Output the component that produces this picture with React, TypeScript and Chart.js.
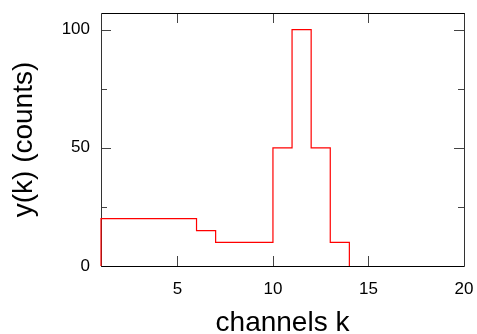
import { useEffect, useRef } from "react";
import { Chart, registerables } from "chart.js";

Chart.register(...registerables);

// Histogram as step points (horizontal first): channel edge and count
const channels = [1, 1, 6, 7, 10, 11, 12, 13, 14];
const counts = [0, 20, 15, 10, 50, 100, 50, 10, 0];

const xMin = 1;
const xMax = 20;
const yMin = 0;
const yMax = 107;
const xTicks = [5, 10, 15, 20];
const yTicks = [0, 50, 100];
const yMinorTicks = [25, 75];
const xLabel = "channels k";
const yLabel = "y(k) (counts)";

const FONT = "'Liberation Sans', Arial, sans-serif";

const framePlugin = {
  id: "frame",
  beforeDatasetsDraw(chart: any) {
    const { ctx, chartArea, scales } = chart;
    const { left, right, top, bottom } = chartArea;
    const x = scales.x;
    const y = scales.y;
    ctx.save();
    ctx.lineWidth = 1;
    ctx.strokeStyle = "#444";
    ctx.beginPath();
    for (const v of xTicks) {
      const px = Math.round(x.getPixelForValue(v)) + 0.5;
      ctx.moveTo(px, bottom);
      ctx.lineTo(px, bottom - 10);
      ctx.moveTo(px, top);
      ctx.lineTo(px, top + 10);
    }
    for (const v of yTicks) {
      const py = Math.round(y.getPixelForValue(v)) + 0.5;
      ctx.moveTo(left, py);
      ctx.lineTo(left + 10, py);
      ctx.moveTo(right, py);
      ctx.lineTo(right - 10, py);
    }
    for (const v of yMinorTicks) {
      const py = Math.round(y.getPixelForValue(v)) + 0.5;
      ctx.moveTo(left, py);
      ctx.lineTo(left + 6, py);
      ctx.moveTo(right, py);
      ctx.lineTo(right - 6, py);
    }
    ctx.stroke();
    const l = Math.round(left) + 0.5;
    const r = Math.round(right) + 0.5;
    const t = Math.round(top) + 0.5;
    const b = Math.round(bottom) + 0.5;
    ctx.strokeStyle = "#333";
    ctx.beginPath();
    ctx.moveTo(l, t);
    ctx.lineTo(l, b);
    ctx.moveTo(r, t);
    ctx.lineTo(r, b);
    ctx.stroke();
    ctx.strokeStyle = "#000";
    ctx.beginPath();
    ctx.moveTo(l, t);
    ctx.lineTo(r, t);
    ctx.moveTo(l, b);
    ctx.lineTo(r, b);
    ctx.stroke();
    ctx.restore();
  },
};

const zeroPad = (s: any) => {
  s.paddingLeft = 0;
  s.paddingRight = 0;
  s.paddingTop = 0;
  s.paddingBottom = 0;
};

export default function App() {
  const ref = useRef<HTMLCanvasElement>(null);
  useEffect(() => {
    if (!ref.current) return;
    const chart = new Chart(ref.current, {
      type: "line",
      data: {
        datasets: [
          {
            data: channels.map((c, i) => ({ x: c, y: counts[i] })),
            borderColor: "#ff0000",
            borderWidth: 1.2,
            stepped: "before",
            pointRadius: 0,
            fill: false,
            clip: false,
          } as any,
        ],
      },
      options: {
        animation: false,
        responsive: false,
        devicePixelRatio: 1,
        layout: { padding: { top: 13, right: 13, left: 0, bottom: 0 } },
        plugins: { legend: { display: false }, tooltip: { enabled: false } },
        scales: {
          x: {
            type: "linear",
            min: xMin,
            max: xMax,
            afterBuildTicks: (s: any) => {
              s.ticks = xTicks.map((v) => ({ value: v }));
            },
            afterFit: (s: any) => {
              s.height = 68;
              zeroPad(s);
            },
            grid: { display: false, drawTicks: false },
            border: { display: false },
            ticks: {
              padding: 13,
              color: "#000",
              font: { family: FONT, size: 17 },
              maxRotation: 0,
            },
            title: {
              display: true,
              text: xLabel,
              color: "#000",
              font: { family: FONT, size: 28, lineHeight: 0.7 },
              padding: { top: 0, bottom: 0.6 },
            },
          },
          y: {
            type: "linear",
            min: yMin,
            max: yMax,
            afterBuildTicks: (s: any) => {
              s.ticks = yTicks.map((v) => ({ value: v }));
            },
            afterFit: (s: any) => {
              s.width = 101;
              zeroPad(s);
            },
            grid: { display: false, drawTicks: false },
            border: { display: false },
            ticks: {
              padding: 11,
              color: "#000",
              font: { family: FONT, size: 17 },
            },
            title: {
              display: true,
              text: yLabel,
              color: "#000",
              font: { family: FONT, size: 28, lineHeight: 1 },
              padding: { top: 10.5, bottom: 0 },
            },
          },
        },
      },
      plugins: [framePlugin],
    });
    return () => chart.destroy();
  }, []);
  return (
    <div style={{ position: "absolute", left: 0, top: 0, width: 477, height: 334, background: "#fff" }}>
      <canvas ref={ref} width={477} height={334} style={{ display: "block" }} />
    </div>
  );
}
